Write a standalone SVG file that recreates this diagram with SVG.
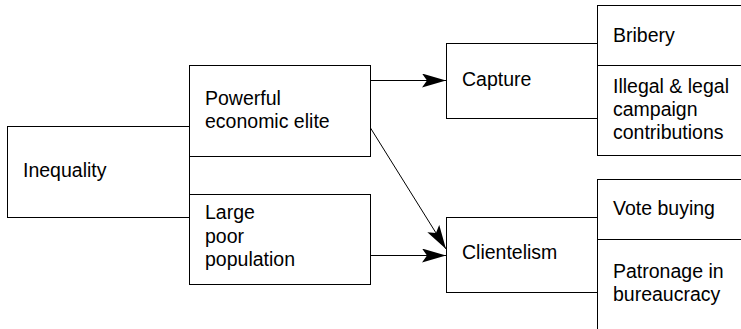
<svg xmlns="http://www.w3.org/2000/svg" width="741" height="329" viewBox="0 0 741 329">
<defs>
<style>
.box{fill:#fff;stroke:#000;stroke-width:1}
.t{font-family:"Liberation Sans",Arial,sans-serif;font-size:19.5px;fill:#000}
.c{stroke:#000;stroke-width:1;fill:none}
</style>
<marker id="ah" viewBox="0 0 24 14" refX="24" refY="7" markerWidth="24" markerHeight="14" markerUnits="userSpaceOnUse" orient="auto">
<path d="M0,0 L24,7 L0,14 L5,7 Z" fill="#000"/>
</marker>
</defs>
<rect width="741" height="329" fill="#fff"/>
<g id="inequality">
<rect class="box" x="7.5" y="126.5" width="182" height="91"/>
<text class="t" x="23" y="177">Inequality</text>
</g>
<g id="elite">
<rect class="box" x="189.5" y="65.5" width="181" height="91"/>
<text class="t" x="205" y="105">Powerful</text>
<text class="t" x="205" y="128">economic elite</text>
</g>
<g id="poor">
<rect class="box" x="189.5" y="194.5" width="181" height="90"/>
<text class="t" x="205" y="219">Large</text>
<text class="t" x="205" y="243">poor</text>
<text class="t" x="205" y="266">population</text>
</g>
<g id="capture">
<rect class="box" x="446.5" y="43.5" width="151" height="75"/>
<text class="t" x="462" y="86">Capture</text>
</g>
<g id="capture-types">
<rect class="box" x="597.5" y="5.5" width="150" height="150"/>
<line class="c" x1="597.5" y1="65.5" x2="741" y2="65.5"/>
<text class="t" x="613" y="42">Bribery</text>
<text class="t" x="613" y="93">Illegal &amp; legal</text>
<text class="t" x="613" y="116">campaign</text>
<text class="t" x="613" y="139">contributions</text>
</g>
<g id="clientelism">
<rect class="box" x="446.5" y="217.5" width="151" height="75"/>
<text class="t" x="462" y="259">Clientelism</text>
</g>
<g id="clientelism-types">
<rect class="box" x="597.5" y="179.5" width="150" height="160"/>
<line class="c" x1="597.5" y1="239.5" x2="741" y2="239.5"/>
<text class="t" x="613" y="215">Vote buying</text>
<text class="t" x="613" y="278">Patronage in</text>
<text class="t" x="613" y="301">bureaucracy</text>
</g>
<g id="connectors">
<line class="c" x1="370.5" y1="80.5" x2="446" y2="80.5" marker-end="url(#ah)"/>
<line class="c" x1="370.5" y1="255.5" x2="446" y2="255.5" marker-end="url(#ah)"/>
<line class="c" x1="370.5" y1="128" x2="446" y2="249" marker-end="url(#ah)"/>
</g>
</svg>
